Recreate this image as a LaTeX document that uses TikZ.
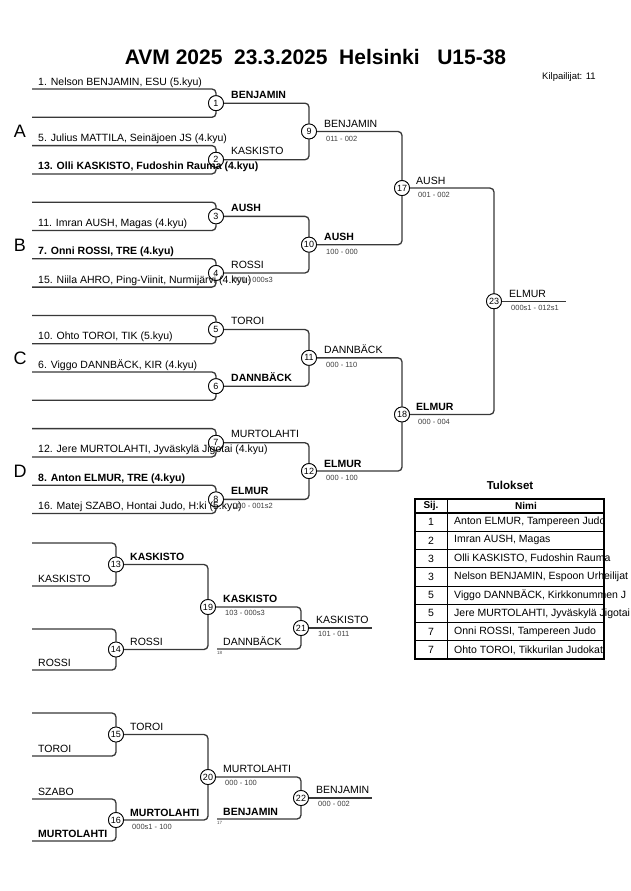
\documentclass[tikz,border=0pt]{standalone}
\usepackage{fontspec}
\setmainfont{Liberation Sans}
\begin{document}
\begin{tikzpicture}[x=1pt,y=-1pt,
  bk/.style={draw=black!78, line width=1.3pt, rounded corners=4pt},
  mc/.style={circle, draw=black, line width=0.8pt, fill=white, minimum size=15pt, inner sep=0pt, font=\fontsize{9}{9}\selectfont},
  nm/.style={anchor=base west, inner sep=0pt, font=\fontsize{10.5}{12}\selectfont},
  nb/.style={anchor=base west, inner sep=0pt, font=\fontsize{10.5}{12}\selectfont\bfseries},
  sc/.style={anchor=base west, inner sep=0pt, font=\fontsize{7.5}{8}\selectfont, text=black!75},
  tiny/.style={anchor=base west, inner sep=0pt, font=\fontsize{4.5}{5}\selectfont, text=black!70},
  pool/.style={inner sep=0pt, font=\fontsize{18}{20}\selectfont},
  tb/.style={draw=black, line width=0.6pt},
  tbo/.style={draw=black, line width=1.6pt},
  tn/.style={anchor=west, inner sep=0pt, font=\fontsize{10.5}{12}\selectfont},
  tc/.style={inner sep=0pt, font=\fontsize{10.5}{12}\selectfont}
]
\fill[white] (0,0) rectangle (630,891);
\useasboundingbox (0,0) rectangle (630,891);

% title
\node[anchor=base, inner sep=0pt, font=\fontsize{21}{24}\selectfont\bfseries] (title) at (315.5,65) {AVM 2025\ \ 23.3.2025\ \ Helsinki\ \ \ U15-38};
\node[anchor=base west, inner sep=0pt, font=\fontsize{9.5}{10}\selectfont] (kilp) at (542,79) {Kilpailijat: 11};

% pool letters
\node[pool] (pA) at (20,131) {A};
\node[pool] (pB) at (20,245) {B};
\node[pool] (pC) at (20,358) {C};
\node[pool] (pD) at (20,471) {D};

% entry coordinates
\coordinate (e0) at (32,89);
\coordinate (e1) at (32,117.3);
\coordinate (e2) at (32,145.6);
\coordinate (e3) at (32,173.9);
\coordinate (e4) at (32,202.2);
\coordinate (e5) at (32,230.5);
\coordinate (e6) at (32,258.8);
\coordinate (e7) at (32,287.1);
\coordinate (e8) at (32,315.4);
\coordinate (e9) at (32,343.7);
\coordinate (e10) at (32,372);
\coordinate (e11) at (32,400.3);
\coordinate (e12) at (32,428.6);
\coordinate (e13) at (32,456.9);
\coordinate (e14) at (32,485.2);
\coordinate (e15) at (32,513.5);
\coordinate (f23) at (566,301.25);

% main bracket circles
\node[mc] (m1) at (216,103.15) {1};
\node[mc] (m2) at (216,159.75) {2};
\node[mc] (m3) at (216,216.35) {3};
\node[mc] (m4) at (216,272.95) {4};
\node[mc] (m5) at (216,329.55) {5};
\node[mc] (m6) at (216,386.15) {6};
\node[mc] (m7) at (216,442.75) {7};
\node[mc] (m8) at (216,499.35) {8};
\node[mc] (m9) at (309,131.45) {9};
\node[mc] (m10) at (309,244.65) {10};
\node[mc] (m11) at (309,357.85) {11};
\node[mc] (m12) at (309,471.05) {12};
\node[mc] (m17) at (402,188.05) {17};
\node[mc] (m18) at (402,414.45) {18};
\node[mc] (m23) at (494,301.25) {23};

% main bracket lines
\draw[bk] (e0) -| (m1);  \draw[bk] (e1) -| (m1);
\draw[bk] (e2) -| (m2);  \draw[bk] (e3) -| (m2);
\draw[bk] (e4) -| (m3);  \draw[bk] (e5) -| (m3);
\draw[bk] (e6) -| (m4);  \draw[bk] (e7) -| (m4);
\draw[bk] (e8) -| (m5);  \draw[bk] (e9) -| (m5);
\draw[bk] (e10) -| (m6); \draw[bk] (e11) -| (m6);
\draw[bk] (e12) -| (m7); \draw[bk] (e13) -| (m7);
\draw[bk] (e14) -| (m8); \draw[bk] (e15) -| (m8);
\draw[bk] (m1) -| (m9);  \draw[bk] (m2) -| (m9);
\draw[bk] (m3) -| (m10); \draw[bk] (m4) -| (m10);
\draw[bk] (m5) -| (m11); \draw[bk] (m6) -| (m11);
\draw[bk] (m7) -| (m12); \draw[bk] (m8) -| (m12);
\draw[bk] (m9) -| (m17); \draw[bk] (m10) -| (m17);
\draw[bk] (m11) -| (m18); \draw[bk] (m12) -| (m18);
\draw[bk] (m17) -| (m23); \draw[bk] (m18) -| (m23);
\draw[bk] (m23) -- (f23);

% redraw circles on top
\foreach \n/\t in {m1/1,m2/2,m3/3,m4/4,m5/5,m6/6,m7/7,m8/8,m9/9,m10/10,m11/11,m12/12,m17/17,m18/18,m23/23}
  \node[mc] at (\n) {\t};

% entrant names
\node[nm] (n0) at (38,85) {1. Nelson BENJAMIN, ESU (5.kyu)};
\node[nm] (n2) at (38,141.6) {5. Julius MATTILA, Seinäjoen JS (4.kyu)};
\node[nb] (n3) at (38,169.9) {13. Olli KASKISTO, Fudoshin Rauma (4.kyu)};
\node[nm] (n5) at (38,226.5) {11. Imran AUSH, Magas (4.kyu)};
\node[nb] (n6) at (38,254.8) {7. Onni ROSSI, TRE (4.kyu)};
\node[nm] (n7) at (38,283.1) {15. Niila AHRO, Ping-Viinit, Nurmijärvi (4.kyu)};
\node[nm] (n9) at (38,339.7) {10. Ohto TOROI, TIK (5.kyu)};
\node[nm] (n10) at (38,368) {6. Viggo DANNBÄCK, KIR (4.kyu)};
\node[nm] (n13) at (38,452.9) {12. Jere MURTOLAHTI, Jyväskylä Jigotai (4.kyu)};
\node[nb] (n14) at (38,481.2) {8. Anton ELMUR, TRE (4.kyu)};
\node[nm] (n15) at (38,509.5) {16. Matej SZABO, Hontai Judo, H:ki (5.kyu)};

% round 1 winners
\node[nb] (w1) at (231,98.2) {BENJAMIN};
\node[nm] (w2) at (231,154.8) {KASKISTO};
\node[nb] (w3) at (231,211.4) {AUSH};
\node[nm] (w4) at (231,268) {ROSSI};
\node[sc] (s4) at (233,282) {000 - 000s3};
\node[nm] (w5) at (231,324.6) {TOROI};
\node[nb] (w6) at (231,381.2) {DANNBÄCK};
\node[nm] (w7) at (231,437.8) {MURTOLAHTI};
\node[nb] (w8) at (231,494.4) {ELMUR};
\node[sc] (s8) at (233,508.4) {000 - 001s2};

% round 2 winners
\node[nm] (w9) at (324,127.5) {BENJAMIN};
\node[sc] (s9) at (326,141) {011 - 002};
\node[nb] (w10) at (324,240.7) {AUSH};
\node[sc] (s10) at (326,254.2) {100 - 000};
\node[nm] (w11) at (324,353.9) {DANNBÄCK};
\node[sc] (s11) at (326,367.4) {000 - 110};
\node[nb] (w12) at (324,467.1) {ELMUR};
\node[sc] (s12) at (326,480.6) {000 - 100};

% round 3 / final
\node[nm] (w17) at (416,184.1) {AUSH};
\node[sc] (s17) at (418,197.6) {001 - 002};
\node[nb] (w18) at (416,410.5) {ELMUR};
\node[sc] (s18) at (418,424) {000 - 004};
\node[nm] (w23) at (509,297.3) {ELMUR};
\node[sc] (s23) at (511,310.8) {000s1 - 012s1};

% ---------- repechage 1 ----------
\coordinate (r1) at (32,543);
\coordinate (r2) at (32,586);
\coordinate (r3) at (32,629);
\coordinate (r4) at (32,670);
\coordinate (q18) at (217,649);
\coordinate (f21) at (372,628);
\node[mc] (m13) at (116,564.5) {13};
\node[mc] (m14) at (116,649.5) {14};
\node[mc] (m19) at (208,607) {19};
\node[mc] (m21) at (301,628) {21};
\draw[bk] (r1) -| (m13); \draw[bk] (r2) -| (m13);
\draw[bk] (r3) -| (m14); \draw[bk] (r4) -| (m14);
\draw[bk] (m13) -| (m19); \draw[bk] (m14) -| (m19);
\draw[bk] (m19) -| (m21); \draw[bk] (q18) -| (m21);
\draw[bk] (m21) -- (f21);
\foreach \n/\t in {m13/13,m14/14,m19/19,m21/21}
  \node[mc] at (\n) {\t};
\node[nm] (k1) at (38,582) {KASKISTO};
\node[nm] (k2) at (38,666) {ROSSI};
\node[nb] (w13) at (130,560.5) {KASKISTO};
\node[nm] (w14) at (130,645.5) {ROSSI};
\node[nb] (w19) at (223,602.5) {KASKISTO};
\node[sc] (s19) at (225,615.5) {103 - 000s3};
\node[nm] (d18) at (223,645) {DANNBÄCK};
\node[tiny] (t18) at (217,654) {18};
\node[nm] (w21) at (316,623) {KASKISTO};
\node[sc] (s21) at (318,636.5) {101 - 011};

% ---------- repechage 2 ----------
\coordinate (u1) at (32,713);
\coordinate (u2) at (32,756);
\coordinate (u3) at (32,799);
\coordinate (u4) at (32,841);
\coordinate (q17) at (217,819);
\coordinate (f22) at (372,798);
\node[mc] (m15) at (116,734.5) {15};
\node[mc] (m16) at (116,820) {16};
\node[mc] (m20) at (208,777) {20};
\node[mc] (m22) at (301,798) {22};
\draw[bk] (u1) -| (m15); \draw[bk] (u2) -| (m15);
\draw[bk] (u3) -| (m16); \draw[bk] (u4) -| (m16);
\draw[bk] (m15) -| (m20); \draw[bk] (m16) -| (m20);
\draw[bk] (m20) -| (m22); \draw[bk] (q17) -| (m22);
\draw[bk] (m22) -- (f22);
\foreach \n/\t in {m15/15,m16/16,m20/20,m22/22}
  \node[mc] at (\n) {\t};
\node[nm] (k3) at (38,752) {TOROI};
\node[nm] (k4) at (38,795) {SZABO};
\node[nb] (k5) at (38,837) {MURTOLAHTI};
\node[nm] (w15) at (130,730.5) {TOROI};
\node[nb] (w16) at (130,816) {MURTOLAHTI};
\node[sc] (s16) at (132,829) {000s1 - 100};
\node[nm] (w20) at (223,772.5) {MURTOLAHTI};
\node[sc] (s20) at (225,785.5) {000 - 100};
\node[nb] (b17) at (223,815) {BENJAMIN};
\node[tiny] (t17) at (217,824) {17};
\node[nm] (w22) at (316,793) {BENJAMIN};
\node[sc] (s22) at (318,806.5) {000 - 002};

% ---------- results table ----------
\node[anchor=base, inner sep=0pt, font=\fontsize{11.5}{13}\selectfont\bfseries] (tul) at (510,489) {Tulokset};
\foreach \i in {1,...,7}
  \draw[tb] (415,{513+18.25*\i}) -- (604,{513+18.25*\i});
\draw[tb] (447,499) -- (447,659);
\draw[tb, line width=1.2pt] (415,513) -- (604,513);
\draw[tbo] (415,499) rectangle (604,659);
\node[tc, font=\fontsize{10}{12}\selectfont\bfseries] (hs) at (431,506) {Sij.};
\node[tc, font=\fontsize{10}{12}\selectfont\bfseries] (hn) at (526,506) {Nimi};
\node[tc] (c1) at (431,522.1) {1};
\node[tc] (c2) at (431,540.4) {2};
\node[tc] (c3) at (431,558.6) {3};
\node[tc] (c4) at (431,576.9) {3};
\node[tc] (c5) at (431,595.1) {5};
\node[tc] (c6) at (431,613.4) {5};
\node[tc] (c7) at (431,631.6) {7};
\node[tc] (c8) at (431,649.9) {7};
\node[tn] (r1n) at (454,522.1) {Anton ELMUR, Tampereen Judo};
\node[tn] (r2n) at (454,540.4) {Imran AUSH, Magas};
\node[tn] (r3n) at (454,558.6) {Olli KASKISTO, Fudoshin Rauma};
\node[tn] (r4n) at (454,576.9) {Nelson BENJAMIN, Espoon Urheilijat};
\node[tn] (r5n) at (454,595.1) {Viggo DANNBÄCK, Kirkkonummen J};
\node[tn] (r6n) at (454,613.4) {Jere MURTOLAHTI, Jyväskylä Jigotai};
\node[tn] (r7n) at (454,631.6) {Onni ROSSI, Tampereen Judo};
\node[tn] (r8n) at (454,649.9) {Ohto TOROI, Tikkurilan Judokat};
\end{tikzpicture}
\end{document}
